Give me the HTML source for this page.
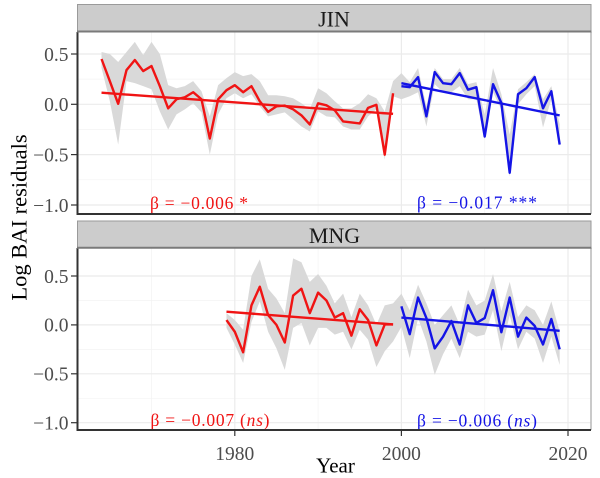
<!DOCTYPE html>
<html><head><meta charset="utf-8"><style>
html,body{margin:0;padding:0;background:#fff;}
svg{display:block;}
text{font-family:"Liberation Serif","DejaVu Serif",serif;}
</style></head><body>
<svg width="600" height="478" viewBox="0 0 600 478" xmlns="http://www.w3.org/2000/svg">
<rect x="0" y="0" width="600" height="478" fill="#fff"/>
<defs>
<clipPath id="c1"><rect x="77" y="32" width="514" height="182"/></clipPath>
<clipPath id="c2"><rect x="77" y="248" width="514" height="182"/></clipPath>
</defs>

<!-- ===== TOP PANEL ===== -->
<g stroke="#f3f3f3" stroke-width="0.7">
<line x1="77" x2="591" y1="79.1" y2="79.1"/><line x1="77" x2="591" y1="129.5" y2="129.5"/><line x1="77" x2="591" y1="179.8" y2="179.8"/>
<line x1="151.5" x2="151.5" y1="32" y2="214"/><line x1="318.1" x2="318.1" y1="32" y2="214"/><line x1="484.7" x2="484.7" y1="32" y2="214"/>
</g>
<g stroke="#ebebeb" stroke-width="1.2">
<line x1="77" x2="591" y1="54" y2="54"/><line x1="77" x2="591" y1="104.3" y2="104.3"/><line x1="77" x2="591" y1="154.6" y2="154.6"/><line x1="77" x2="591" y1="205" y2="205"/>
<line x1="234.8" x2="234.8" y1="32" y2="214"/><line x1="401.4" x2="401.4" y1="32" y2="214"/><line x1="568" x2="568" y1="32" y2="214"/>
</g>
<g clip-path="url(#c1)">
<g transform="matrix(8.33 0 0 -100.67 234.8 104.3)">
<polygon fill="#d9d9d9" points="-16,0.52 -15,0.50 -14,0.42 -13,0.52 -12,0.62 -11,0.49 -10,0.62 -9,0.50 -8,0.19 -7,0.16 -6,0.18 -5,0.23 -4,0.13 -3,-0.12 -2,0.19 -1,0.26 0,0.32 1,0.28 2,0.30 3,0.23 4,0.09 5,0.09 6,0.08 7,0.06 8,0.01 9,-0.05 10,0.16 11,0.11 12,0.03 13,-0.04 14,-0.04 15,0.01 16,0.10 17,0.06 18,-0.07 19,0.23 20,0.31 21,0.22 22,0.36 23,-0.02 24,0.36 25,0.25 26,0.25 27,0.36 28,0.2 29,0.22 30,-0.1 31,0.36 32,0.1 33,-0.3 34,0.15 35,0.22 36,0.3 37,0.05 38,0.18 39,-0.2 39,-0.42 38,0.05 37,-0.23 36,0.18 35,0.1 34,0.0 33,-0.72 32,-0.05 31,0.12 30,-0.35 29,0.05 28,0.05 27,0.18 26,0.12 25,0.12 24,0.2 23,-0.22 22,0.12 21,0.08 20,0.05 19,0.08 18,-0.55 17,-0.05 16,-0.12 15,-0.25 14,-0.25 13,-0.22 12,-0.13 11,-0.12 10,-0.07 9,-0.27 8,-0.22 7,-0.15 6,-0.08 5,-0.10 4,-0.12 3,-0.02 2,0.10 1,0.06 0,0.11 -1,0.06 -2,-0.10 -3,-0.50 -4,-0.08 -5,0.01 -6,-0.05 -7,-0.10 -8,-0.25 -9,-0.07 -10,0.15 -11,0.18 -12,0.21 -13,0.23 -14,-0.40 -15,0.03 -16,0.36"/>
<polyline fill="none" stroke="#f01414" stroke-width="2.4" stroke-linejoin="round" vector-effect="non-scaling-stroke" points="-16,0.45 -15,0.23 -14,0.005 -13,0.34 -12,0.44 -11,0.33 -10,0.38 -9,0.18 -8,-0.04 -7,0.05 -6,0.07 -5,0.12 -4,0.05 -3,-0.34 -2,0.05 -1,0.14 0,0.19 1,0.12 2,0.18 3,0.03 4,-0.075 5,-0.02 6,-0.013 7,-0.05 8,-0.11 9,-0.2 10,0.01 11,-0.01 12,-0.06 13,-0.17 14,-0.18 15,-0.19 16,-0.035 17,-0.005 18,-0.5 19,0.11"/>
<polyline fill="none" stroke="#f01414" stroke-width="2.4" vector-effect="non-scaling-stroke" points="-16,0.115 19,-0.095"/>
<polyline fill="none" stroke="#1414e6" stroke-width="2.4" stroke-linejoin="round" vector-effect="non-scaling-stroke" points="20,0.18 21,0.17 22,0.27 23,-0.12 24,0.32 25,0.21 26,0.2 27,0.31 28,0.145 29,0.17 30,-0.32 31,0.2 32,0.013 33,-0.68 34,0.1 35,0.16 36,0.27 37,-0.04 38,0.13 39,-0.4"/>
<polyline fill="none" stroke="#1414e6" stroke-width="2.4" vector-effect="non-scaling-stroke" points="20,0.21 39,-0.11"/>
</g>
</g>
<text x="199" y="209" font-size="17.5" fill="#f01414" text-anchor="middle" textLength="98" lengthAdjust="spacing">β = −0.006 *</text>
<text x="477" y="208.5" font-size="17.5" fill="#1414e6" text-anchor="middle" textLength="120" lengthAdjust="spacing">β = −0.017 ***</text>
<!-- borders -->
<line x1="591" y1="32" x2="591" y2="214" stroke="#b8b8b8" stroke-width="1.5"/>
<line x1="77" y1="214" x2="591" y2="214" stroke="#333" stroke-width="2"/>
<line x1="77.5" y1="32" x2="77.5" y2="215" stroke="#333" stroke-width="2"/>
<!-- strip -->
<rect x="77.5" y="4.5" width="513.5" height="27" fill="#cccccc" stroke="#9a9a9a" stroke-width="1"/>
<line x1="77" y1="31.5" x2="591.5" y2="31.5" stroke="#7a7a7a" stroke-width="2"/>
<text x="334" y="26.5" font-size="22" fill="#1a1a1a" text-anchor="middle">JIN</text>
<!-- y ticks -->
<g stroke="#333" stroke-width="1.2">
<line x1="71" x2="77" y1="54" y2="54"/><line x1="71" x2="77" y1="104.3" y2="104.3"/><line x1="71" x2="77" y1="154.6" y2="154.6"/><line x1="71" x2="77" y1="205" y2="205"/>
</g>
<g font-size="19.5" fill="#4d4d4d" text-anchor="end">
<text x="68.5" y="60.8">0.5</text><text x="68.5" y="111.1">0.0</text><text x="68.5" y="161.4">−0.5</text><text x="68.5" y="211.8">−1.0</text>
</g>

<!-- ===== BOTTOM PANEL ===== -->
<g stroke="#f3f3f3" stroke-width="0.7">
<line x1="77" x2="591" y1="300.5" y2="300.5"/><line x1="77" x2="591" y1="349.4" y2="349.4"/><line x1="77" x2="591" y1="398.3" y2="398.3"/>
<line x1="151.5" x2="151.5" y1="248" y2="430"/><line x1="318.1" x2="318.1" y1="248" y2="430"/><line x1="484.7" x2="484.7" y1="248" y2="430"/>
</g>
<g stroke="#ebebeb" stroke-width="1.2">
<line x1="77" x2="591" y1="276" y2="276"/><line x1="77" x2="591" y1="324.9" y2="324.9"/><line x1="77" x2="591" y1="373.8" y2="373.8"/><line x1="77" x2="591" y1="422.7" y2="422.7"/>
<line x1="234.8" x2="234.8" y1="248" y2="430"/><line x1="401.4" x2="401.4" y1="248" y2="430"/><line x1="568" x2="568" y1="248" y2="430"/>
</g>
<g clip-path="url(#c2)">
<g transform="matrix(8.33 0 0 -97.8 234.8 324.9)">
<polygon fill="#d9d9d9" points="-1,0.12 0,0.05 1,-0.05 2,0.50 3,0.67 4,0.37 5,0.27 6,0.12 7,0.68 8,0.64 9,0.44 10,0.52 11,0.4 12,0.22 13,0.32 14,0.08 15,0.32 16,0.2 17,0.0 18,0.2 19,0.22 20,0.32 21,0.15 22,0.41 23,0.22 24,0.0 25,0.1 26,0.2 27,0.0 28,0.36 29,0.2 30,0.25 31,0.52 32,0.14 33,0.44 34,0.08 35,0.2 36,0.15 37,0.0 38,0.24 39,-0.07 39,-0.41 38,-0.12 37,-0.39 36,-0.14 35,-0.07 34,-0.25 33,0.1 32,-0.27 31,0.15 30,-0.1 29,-0.12 28,-0.07 27,-0.34 26,-0.14 25,-0.3 24,-0.51 23,-0.17 22,0.07 21,-0.34 20,-0.02 19,-0.17 18,-0.27 17,-0.43 16,-0.15 15,-0.05 14,-0.25 13,-0.07 12,-0.1 11,-0.03 10,-0.03 9,-0.21 8,0.02 7,-0.03 6,-0.46 5,-0.24 4,-0.07 3,0.24 2,0.03 1,-0.39 0,-0.2 -1,-0.03"/>
<polyline fill="none" stroke="#f01414" stroke-width="2.4" stroke-linejoin="round" vector-effect="non-scaling-stroke" points="-1,0.05 0,-0.07 1,-0.28 2,0.2 3,0.39 4,0.1 5,0.0 6,-0.18 7,0.3 8,0.37 9,0.12 10,0.33 11,0.25 12,0.075 13,0.12 14,-0.11 15,0.16 16,0.05 17,-0.21 18,0.005 19,0.005"/>
<polyline fill="none" stroke="#f01414" stroke-width="2.4" vector-effect="non-scaling-stroke" points="-1,0.135 19,0.005"/>
<polyline fill="none" stroke="#1414e6" stroke-width="2.4" stroke-linejoin="round" vector-effect="non-scaling-stroke" points="20,0.19 21,-0.095 22,0.28 23,0.07 24,-0.24 25,-0.12 26,0.04 27,-0.2 28,0.2 29,0.02 30,0.07 31,0.355 32,-0.075 33,0.28 34,-0.12 35,0.075 36,-0.01 37,-0.2 38,0.06 39,-0.25"/>
<polyline fill="none" stroke="#1414e6" stroke-width="2.4" vector-effect="non-scaling-stroke" points="20,0.075 39,-0.06"/>
</g>
</g>
<text x="210" y="426" font-size="17.5" fill="#f01414" text-anchor="middle" textLength="119" lengthAdjust="spacing">β = −0.007 (<tspan font-style="italic">ns</tspan>)</text>
<text x="477" y="426.5" font-size="17.5" fill="#1414e6" text-anchor="middle" textLength="120" lengthAdjust="spacing">β = −0.006 (<tspan font-style="italic">ns</tspan>)</text>
<!-- borders -->
<line x1="591" y1="248" x2="591" y2="430" stroke="#b8b8b8" stroke-width="1.5"/>
<line x1="77" y1="430" x2="591" y2="430" stroke="#333" stroke-width="2"/>
<line x1="77.5" y1="248" x2="77.5" y2="431" stroke="#333" stroke-width="2"/>
<!-- strip -->
<rect x="77.5" y="221" width="513.5" height="27" fill="#cccccc" stroke="#9a9a9a" stroke-width="1"/>
<line x1="77" y1="247.8" x2="591.5" y2="247.8" stroke="#7a7a7a" stroke-width="2"/>
<text x="334.5" y="243" font-size="22" fill="#1a1a1a" text-anchor="middle">MNG</text>
<!-- y ticks -->
<g stroke="#333" stroke-width="1.2">
<line x1="71" x2="77" y1="276" y2="276"/><line x1="71" x2="77" y1="324.9" y2="324.9"/><line x1="71" x2="77" y1="373.8" y2="373.8"/><line x1="71" x2="77" y1="422.7" y2="422.7"/>
</g>
<g font-size="19.5" fill="#4d4d4d" text-anchor="end">
<text x="68.5" y="282.8">0.5</text><text x="68.5" y="331.7">0.0</text><text x="68.5" y="380.6">−0.5</text><text x="68.5" y="429.5">−1.0</text>
</g>
<!-- x ticks -->
<g stroke="#333" stroke-width="1.2">
<line x1="234.8" x2="234.8" y1="430" y2="436"/><line x1="401.4" x2="401.4" y1="430" y2="436"/><line x1="568" x2="568" y1="430" y2="436"/>
</g>
<g font-size="19.5" fill="#4d4d4d" text-anchor="middle">
<text x="234.8" y="460">1980</text><text x="401.4" y="460">2000</text><text x="568" y="460">2020</text>
</g>
<!-- axis titles -->
<text x="335.5" y="472.5" font-size="21" fill="#000" text-anchor="middle">Year</text>
<text transform="translate(26.5,217.5) rotate(-90)" font-size="22.5" fill="#000" text-anchor="middle">Log BAI residuals</text>
</svg>
</body></html>
